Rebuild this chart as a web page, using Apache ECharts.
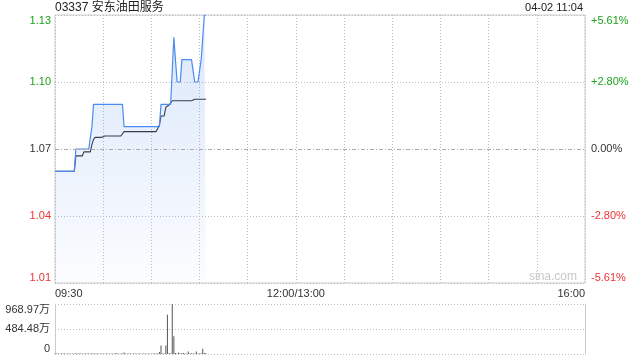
<!DOCTYPE html>
<html><head><meta charset="utf-8">
<script src="https://cdn.jsdelivr.net/npm/echarts@6/dist/echarts.min.js"></script>
<style>html,body{margin:0;padding:0;background:#fff}#c{width:640px;height:360px}</style>
</head><body><div id="c"></div>
<script>
const stockTitle = '03337 安东油田服务';
const stampText = '04-02 11:04';
const watermark = 'sina.com';
const prevClose = 1.07;
const priceTicks = [1.01, 1.04, 1.07, 1.10, 1.13];
const priceTickLabels = ['1.01', '1.04', '1.07', '1.10', '1.13'];
const pctTickLabels = ['-5.61%', '-2.80%', '0.00%', '+2.80%', '+5.61%'];
const timeTicks = [0, 150, 330];
const timeTickLabels = ['09:30', '12:00/13:00', '16:00'];
const volTicks = [0, 484.485, 968.97];
const volTickLabels = ['0', '484.48万', '968.97万'];

// one value per minute from 09:30
const prices = [
  1.06,1.06,1.06,1.06,1.06,1.06,1.06,1.06,1.06,1.06,1.06,1.06,1.06,
  1.07,1.07,1.07,1.07,1.07,1.07,1.07,1.07,1.07,1.07,
  1.08,
  1.09,1.09,1.09,1.09,1.09,1.09,1.09,1.09,1.09,1.09,1.09,1.09,1.09,1.09,1.09,1.09,1.09,1.09,1.09,
  1.08,1.08,1.08,1.08,1.08,1.08,1.08,1.08,1.08,1.08,1.08,1.08,1.08,1.08,1.08,1.08,1.08,1.08,1.08,1.08,1.08,1.08,1.08,
  1.09,1.09,1.09,1.09,1.09,1.09,1.09,1.09,
  1.12,1.12,
  1.10,1.10,1.10,
  1.11,1.11,1.11,1.11,1.11,1.11,1.11,1.11,
  1.10,1.10,1.10,1.10,
  1.11,1.12,1.13,1.13
];
const avgPrices = [
  1.06,1.06,1.06,1.06,1.06,1.06,1.06,1.06,1.06,1.06,1.06,1.06,1.06,
  1.0669,1.0669,1.0669,1.0669,1.0669,
  1.0687,1.0687,1.0687,1.0687,1.0687,
  1.0721,1.0743,
  1.0752,1.0752,1.0752,1.0752,1.0752,1.0752,
  1.0758,1.0758,1.0758,1.0758,1.0758,1.0758,1.0758,1.0758,1.0758,1.0758,1.0758,1.0758,
  1.0778,1.0778,1.0778,1.0778,1.0778,1.0778,1.0778,1.0778,1.0778,1.0778,1.0778,
  1.0778,1.0778,1.0778,1.0778,1.0778,1.0778,1.0778,1.0778,1.0778,1.0778,1.0778,
  1.0807,
  1.0848,1.0848,1.0848,
  1.0887,1.0887,
  1.0897,1.0897,
  1.0916,1.0916,1.0916,1.0916,1.0916,1.0916,1.0916,1.0916,1.0916,1.0916,1.0916,1.0916,1.0916,1.0916,
  1.0923,1.0923,1.0923,1.0923,1.0923,1.0923,1.0923,1.0923
];
const volumes = [
  12,8,10,6,10,8,12,6,10,8,6,10,8,14,10,8,12,6,10,8,
  12,10,6,14,10,8,12,10,6,8,10,6,8,12,6,10,8,6,20,8,
  6,10,12,30,8,6,10,8,6,12,8,6,10,8,6,8,12,6,10,8,
  6,10,8,12,10,40,163,10,12,163,759,15,10,969,346,20,12,30,10,15,
  20,10,12,50,10,15,12,10,50,12,10,15,100,20,15
];

const GREEN = '#1ba21b', RED = '#ee3333', DARK = '#333';
const FONT = '"Liberation Sans", Arial, "Noto Sans CJK SC", sans-serif';
const GRIDLINE = { color: '#bdbdbd', type: [1, 2], width: 1 };
function tickIndex(arr, v) { return arr.findIndex(t => Math.abs(t - v) < 1e-6); }
function priceColor(v) {
  if (v > prevClose + 1e-6) return GREEN;
  if (v < prevClose - 1e-6) return RED;
  return DARK;
}

const chart = echarts.init(document.getElementById('c'), null, { renderer: 'canvas' });
chart.setOption({
  animation: false,
  backgroundColor: '#fff',
  textStyle: { fontFamily: FONT },
  title: [
    { text: stockTitle, left: 55, top: 2, padding: 0, textStyle: { fontSize: 12, fontWeight: 'normal', color: '#222', fontFamily: FONT } },
    { text: stampText, right: 57, top: 2, padding: 0, textStyle: { fontSize: 11, fontWeight: 'normal', color: '#222', fontFamily: FONT } }
  ],
  graphic: [
    { type: 'text', right: 63, top: 271, style: { text: watermark, fill: '#c8c8c8', font: '12px ' + FONT } }
  ],
  grid: [
    { left: 55, right: 55, top: 15, height: 268, show: true, borderColor: '#ccc', borderWidth: 1, backgroundColor: 'transparent' },
    { left: 55, right: 55, top: 304, height: 50 }
  ],
  xAxis: [
    {
      gridIndex: 0, type: 'value', min: 0, max: 330, interval: 30,
      axisLine: { show: false }, axisTick: { show: false },
      splitLine: { show: true, lineStyle: GRIDLINE },
      axisLabel: {
        customValues: timeTicks,
        formatter: v => { const i = tickIndex(timeTicks, v); return i >= 0 ? timeTickLabels[i] : ''; },
        color: DARK, fontSize: 11, margin: 5, alignMinLabel: 'left', alignMaxLabel: 'right'
      }
    },
    {
      gridIndex: 1, type: 'value', min: 0, max: 330,
      axisLine: { show: false }, axisTick: { show: false }, axisLabel: { show: false }, splitLine: { show: false }
    }
  ],
  yAxis: [
    {
      gridIndex: 0, type: 'value', min: 1.01, max: 1.13, position: 'left',
      axisLine: { show: false },
      axisTick: { show: false, customValues: priceTicks },
      splitLine: { show: true, lineStyle: GRIDLINE },
      axisLabel: {
        customValues: priceTicks,
        formatter: v => { const i = tickIndex(priceTicks, v); return i >= 0 ? priceTickLabels[i] : ''; },
        color: v => priceColor(v), fontSize: 11, margin: 4,
        verticalAlignMinLabel: 'bottom', verticalAlignMaxLabel: 'top'
      }
    },
    {
      gridIndex: 0, type: 'value', min: 1.01, max: 1.13, position: 'right',
      axisLine: { show: false },
      axisTick: { show: false, customValues: priceTicks },
      splitLine: { show: false },
      axisLabel: {
        customValues: priceTicks,
        formatter: v => { const i = tickIndex(priceTicks, v); return i >= 0 ? pctTickLabels[i] : ''; },
        color: v => priceColor(v), fontSize: 11, margin: 6,
        verticalAlignMinLabel: 'bottom', verticalAlignMaxLabel: 'top'
      }
    },
    {
      gridIndex: 1, type: 'value', min: 0, max: 968.97, position: 'left',
      axisLine: { show: true, lineStyle: { color: '#ccc', width: 1 } },
      axisTick: { show: false, customValues: volTicks },
      splitLine: { show: true, lineStyle: GRIDLINE },
      axisLabel: {
        customValues: volTicks,
        formatter: v => { const i = tickIndex(volTicks, v); return i >= 0 ? volTickLabels[i] : ''; },
        color: DARK, fontSize: 11, margin: 5,
        verticalAlignMinLabel: 'bottom', verticalAlignMaxLabel: 'top'
      }
    },
    {
      gridIndex: 1, type: 'value', min: 0, max: 968.97, position: 'right',
      axisLine: { show: true, lineStyle: { color: '#ccc', width: 1 } },
      axisTick: { show: false }, axisLabel: { show: false }, splitLine: { show: false }
    }
  ],
  series: [
    {
      name: 'avg', type: 'line', xAxisIndex: 0, yAxisIndex: 0, z: 2,
      data: avgPrices.map((p, i) => [i, p]), symbol: 'none', silent: true,
      lineStyle: { color: '#333', width: 1.1 }
    },
    {
      name: 'price', type: 'line', xAxisIndex: 0, yAxisIndex: 0, z: 3,
      data: prices.map((p, i) => [i, p]), symbol: 'none', silent: true,
      lineStyle: { color: '#4a8bef', width: 1.2 },
      areaStyle: {
        color: new echarts.graphic.LinearGradient(0, 0, 0, 1, [
          { offset: 0, color: 'rgba(80,140,235,0.30)' },
          { offset: 1, color: 'rgba(80,140,235,0.03)' }
        ])
      },
      markLine: {
        silent: true, symbol: 'none', label: { show: false },
        lineStyle: { color: '#aaa', type: [4, 2, 1, 2], width: 1 },
        data: [{ yAxis: prevClose }]
      }
    },
    {
      name: 'vol', type: 'bar', xAxisIndex: 1, yAxisIndex: 2,
      data: volumes.map((v, i) => [i, v]), barWidth: 1, silent: true,
      itemStyle: { color: '#555' }
    }
  ]
});
</script>
</body></html>
